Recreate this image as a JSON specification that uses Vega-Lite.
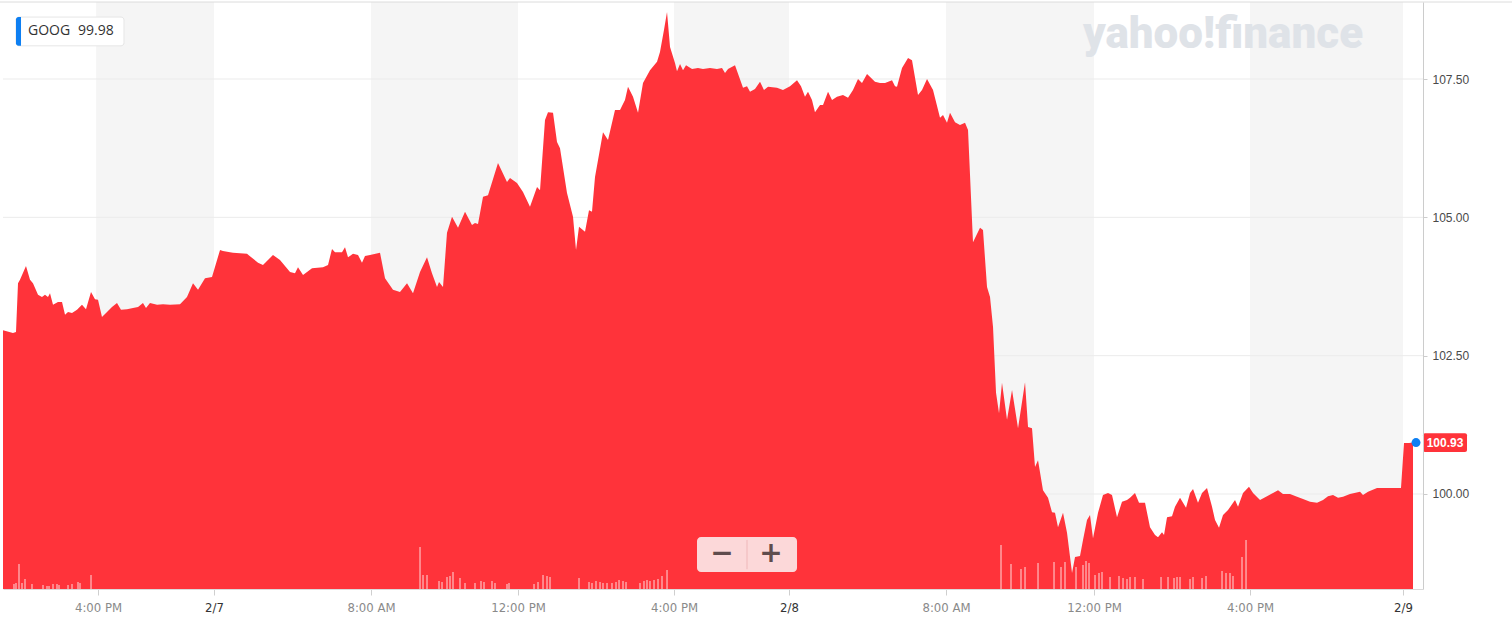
{
  "$schema": "https://vega.github.io/schema/vega-lite/v6.json",
  "width": 1420,
  "height": 587,
  "autosize": "none",
  "padding": {"left": 3, "top": 2, "right": 89, "bottom": 42},
  "background": "#ffffff",
  "config": {"view": {"stroke": null}},
  "datasets": {
    "price": [
      {"h":0,"p":102.96},{"h":0.263,"p":102.91},{"h":0.342,"p":102.93},{"h":0.395,"p":103.81},{"h":0.447,"p":103.87},{"h":0.605,"p":104.12},{"h":0.711,"p":103.87},{"h":0.789,"p":103.81},{"h":0.921,"p":103.60},{"h":1.026,"p":103.56},{"h":1.105,"p":103.60},{"h":1.184,"p":103.56},{"h":1.237,"p":103.63},{"h":1.316,"p":103.42},{"h":1.447,"p":103.47},{"h":1.553,"p":103.47},{"h":1.632,"p":103.24},{"h":1.711,"p":103.29},{"h":1.816,"p":103.27},{"h":1.947,"p":103.33},{"h":2.079,"p":103.42},{"h":2.184,"p":103.34},{"h":2.316,"p":103.65},{"h":2.421,"p":103.52},{"h":2.5,"p":103.51},{"h":2.605,"p":103.20},{"h":2.737,"p":103.29},{"h":2.868,"p":103.38},{"h":3.0,"p":103.45},{"h":3.105,"p":103.33},{"h":3.263,"p":103.34},{"h":3.421,"p":103.36},{"h":3.553,"p":103.38},{"h":3.684,"p":103.45},{"h":3.763,"p":103.36},{"h":3.868,"p":103.45},{"h":4.053,"p":103.42},{"h":4.211,"p":103.43},{"h":4.395,"p":103.42},{"h":4.658,"p":103.43},{"h":4.842,"p":103.56},{"h":5.0,"p":103.81},{"h":5.132,"p":103.69},{"h":5.316,"p":103.90},{"h":5.5,"p":103.92},{"h":5.711,"p":104.41},{"h":5.789,"p":104.39},{"h":5.974,"p":104.37},{"h":6.053,"p":104.36},{"h":6.421,"p":104.34},{"h":6.711,"p":104.18},{"h":6.842,"p":104.14},{"h":7.105,"p":104.32},{"h":7.289,"p":104.23},{"h":7.553,"p":104.01},{"h":7.684,"p":103.99},{"h":7.763,"p":104.10},{"h":7.895,"p":103.96},{"h":8.132,"p":104.08},{"h":8.421,"p":104.10},{"h":8.553,"p":104.14},{"h":8.658,"p":104.43},{"h":8.737,"p":104.37},{"h":8.921,"p":104.37},{"h":9.0,"p":104.46},{"h":9.079,"p":104.28},{"h":9.211,"p":104.34},{"h":9.342,"p":104.32},{"h":9.447,"p":104.18},{"h":9.526,"p":104.30},{"h":9.658,"p":104.32},{"h":9.921,"p":104.36},{"h":10.053,"p":103.90},{"h":10.263,"p":103.69},{"h":10.447,"p":103.65},{"h":10.632,"p":103.81},{"h":10.789,"p":103.63},{"h":10.974,"p":104.01},{"h":11.158,"p":104.28},{"h":11.289,"p":103.99},{"h":11.421,"p":103.74},{"h":11.474,"p":103.83},{"h":11.579,"p":103.74},{"h":11.684,"p":104.72},{"h":11.816,"p":105.01},{"h":11.974,"p":104.81},{"h":12.158,"p":105.10},{"h":12.342,"p":104.86},{"h":12.421,"p":104.90},{"h":12.5,"p":104.88},{"h":12.632,"p":105.37},{"h":12.763,"p":105.40},{"h":13.026,"p":105.98},{"h":13.263,"p":105.64},{"h":13.342,"p":105.71},{"h":13.526,"p":105.62},{"h":13.684,"p":105.46},{"h":13.868,"p":105.19},{"h":14.053,"p":105.55},{"h":14.132,"p":105.49},{"h":14.263,"p":106.76},{"h":14.342,"p":106.90},{"h":14.474,"p":106.89},{"h":14.579,"p":106.36},{"h":14.658,"p":106.25},{"h":14.842,"p":105.44},{"h":15.0,"p":105.01},{"h":15.079,"p":104.41},{"h":15.158,"p":104.83},{"h":15.316,"p":104.74},{"h":15.421,"p":105.13},{"h":15.5,"p":105.10},{"h":15.579,"p":105.73},{"h":15.789,"p":106.54},{"h":15.921,"p":106.40},{"h":16.105,"p":106.94},{"h":16.237,"p":106.94},{"h":16.368,"p":107.12},{"h":16.447,"p":107.36},{"h":16.579,"p":107.18},{"h":16.711,"p":106.89},{"h":16.842,"p":107.43},{"h":17.026,"p":107.66},{"h":17.211,"p":107.81},{"h":17.289,"p":107.99},{"h":17.395,"p":108.39},{"h":17.474,"p":108.71},{"h":17.553,"p":108.08},{"h":17.684,"p":107.79},{"h":17.737,"p":107.64},{"h":17.816,"p":107.77},{"h":17.895,"p":107.66},{"h":17.974,"p":107.75},{"h":18.132,"p":107.68},{"h":18.289,"p":107.70},{"h":18.421,"p":107.68},{"h":18.605,"p":107.70},{"h":18.789,"p":107.68},{"h":18.921,"p":107.70},{"h":19.0,"p":107.61},{"h":19.079,"p":107.68},{"h":19.263,"p":107.75},{"h":19.474,"p":107.34},{"h":19.579,"p":107.37},{"h":19.658,"p":107.27},{"h":19.789,"p":107.32},{"h":19.921,"p":107.45},{"h":20.026,"p":107.30},{"h":20.132,"p":107.36},{"h":20.368,"p":107.34},{"h":20.526,"p":107.30},{"h":20.711,"p":107.37},{"h":20.895,"p":107.48},{"h":21.0,"p":107.37},{"h":21.105,"p":107.18},{"h":21.184,"p":107.27},{"h":21.289,"p":107.12},{"h":21.368,"p":106.90},{"h":21.5,"p":107.03},{"h":21.579,"p":107.03},{"h":21.711,"p":107.27},{"h":21.816,"p":107.12},{"h":21.947,"p":107.18},{"h":22.105,"p":107.21},{"h":22.237,"p":107.16},{"h":22.368,"p":107.30},{"h":22.5,"p":107.50},{"h":22.605,"p":107.43},{"h":22.737,"p":107.59},{"h":22.947,"p":107.45},{"h":23.079,"p":107.43},{"h":23.211,"p":107.43},{"h":23.395,"p":107.48},{"h":23.474,"p":107.37},{"h":23.526,"p":107.36},{"h":23.658,"p":107.70},{"h":23.816,"p":107.88},{"h":23.921,"p":107.84},{"h":24.079,"p":107.21},{"h":24.184,"p":107.30},{"h":24.316,"p":107.50},{"h":24.474,"p":107.30},{"h":24.658,"p":106.80},{"h":24.737,"p":106.85},{"h":24.842,"p":106.71},{"h":24.921,"p":106.89},{"h":25.053,"p":106.72},{"h":25.184,"p":106.67},{"h":25.316,"p":106.71},{"h":25.395,"p":106.58},{"h":25.526,"p":104.55},{"h":25.711,"p":104.81},{"h":25.789,"p":104.77},{"h":25.895,"p":103.74},{"h":25.974,"p":103.56},{"h":26.053,"p":103.02},{"h":26.132,"p":101.83},{"h":26.211,"p":101.46},{"h":26.289,"p":102.01},{"h":26.421,"p":101.34},{"h":26.553,"p":101.88},{"h":26.711,"p":101.19},{"h":26.895,"p":102.02},{"h":26.974,"p":101.21},{"h":27.079,"p":101.19},{"h":27.158,"p":100.49},{"h":27.237,"p":100.61},{"h":27.368,"p":100.07},{"h":27.5,"p":99.93},{"h":27.605,"p":99.67},{"h":27.684,"p":99.66},{"h":27.763,"p":99.40},{"h":27.895,"p":99.66},{"h":28.0,"p":99.30},{"h":28.132,"p":98.57},{"h":28.211,"p":98.86},{"h":28.342,"p":98.88},{"h":28.421,"p":99.17},{"h":28.526,"p":99.53},{"h":28.605,"p":99.62},{"h":28.684,"p":99.20},{"h":28.816,"p":99.66},{"h":28.947,"p":99.98},{"h":29.079,"p":100.02},{"h":29.184,"p":99.98},{"h":29.316,"p":99.58},{"h":29.447,"p":99.86},{"h":29.579,"p":99.89},{"h":29.658,"p":99.93},{"h":29.789,"p":100.02},{"h":29.895,"p":99.84},{"h":30.053,"p":99.84},{"h":30.184,"p":99.40},{"h":30.316,"p":99.26},{"h":30.395,"p":99.22},{"h":30.5,"p":99.31},{"h":30.553,"p":99.26},{"h":30.632,"p":99.58},{"h":30.763,"p":99.60},{"h":30.842,"p":99.77},{"h":30.974,"p":99.93},{"h":31.132,"p":99.75},{"h":31.237,"p":100.02},{"h":31.316,"p":100.09},{"h":31.447,"p":99.84},{"h":31.553,"p":100.02},{"h":31.684,"p":100.11},{"h":31.816,"p":99.77},{"h":31.895,"p":99.53},{"h":32.0,"p":99.39},{"h":32.105,"p":99.62},{"h":32.237,"p":99.71},{"h":32.421,"p":99.89},{"h":32.5,"p":99.77},{"h":32.632,"p":100.02},{"h":32.789,"p":100.13},{"h":32.895,"p":100.02},{"h":33.079,"p":99.89},{"h":33.263,"p":99.96},{"h":33.421,"p":100.02},{"h":33.553,"p":100.07},{"h":33.684,"p":100.00},{"h":33.868,"p":100.00},{"h":34.053,"p":99.95},{"h":34.211,"p":99.91},{"h":34.395,"p":99.86},{"h":34.579,"p":99.84},{"h":34.737,"p":99.89},{"h":34.868,"p":99.96},{"h":35.0,"p":99.98},{"h":35.132,"p":99.93},{"h":35.263,"p":99.95},{"h":35.447,"p":100.00},{"h":35.711,"p":100.04},{"h":35.789,"p":99.98},{"h":35.921,"p":100.04},{"h":36.158,"p":100.11},{"h":36.316,"p":100.11},{"h":36.5,"p":100.11},{"h":36.684,"p":100.11},{"h":36.789,"p":100.11},{"h":36.868,"p":100.92},{"h":37.0,"p":100.92},{"h":37.105,"p":100.93}
    ],
    "vol": [
      {"h":0.289,"v":50},{"h":0.342,"v":60},{"h":0.421,"v":250},{"h":0.5,"v":60},{"h":0.579,"v":100},{"h":0.763,"v":50},{"h":1.053,"v":40},{"h":1.158,"v":30},{"h":1.211,"v":30},{"h":1.316,"v":50},{"h":1.421,"v":50},{"h":1.474,"v":40},{"h":1.711,"v":40},{"h":1.816,"v":50},{"h":1.974,"v":70},{"h":2.026,"v":60},{"h":2.316,"v":140},
      {"h":10.974,"v":420},{"h":11.053,"v":140},{"h":11.158,"v":140},{"h":11.474,"v":80},{"h":11.553,"v":70},{"h":11.684,"v":120},{"h":11.763,"v":130},{"h":11.842,"v":170},{"h":12.026,"v":110},{"h":12.158,"v":60},{"h":12.421,"v":60},{"h":12.579,"v":80},{"h":12.658,"v":70},{"h":12.868,"v":80},{"h":12.947,"v":60},{"h":13.263,"v":50},{"h":13.316,"v":60},{"h":13.974,"v":50},{"h":14.079,"v":70},{"h":14.211,"v":140},{"h":14.316,"v":130},{"h":14.395,"v":120},{"h":15.158,"v":110},{"h":15.421,"v":70},{"h":15.5,"v":60},{"h":15.605,"v":80},{"h":15.711,"v":70},{"h":15.789,"v":60},{"h":15.895,"v":60},{"h":16.026,"v":60},{"h":16.132,"v":70},{"h":16.211,"v":90},{"h":16.316,"v":80},{"h":16.395,"v":70},{"h":16.763,"v":60},{"h":16.868,"v":80},{"h":16.947,"v":90},{"h":17.026,"v":80},{"h":17.132,"v":90},{"h":17.237,"v":100},{"h":17.342,"v":130},{"h":17.474,"v":190},
      {"h":26.263,"v":440},{"h":26.526,"v":250},{"h":26.789,"v":200},{"h":26.895,"v":220},{"h":27.237,"v":260},{"h":27.658,"v":270},{"h":27.842,"v":220},{"h":27.947,"v":270},{"h":28.237,"v":220},{"h":28.421,"v":240},{"h":28.5,"v":280},{"h":28.579,"v":260},{"h":28.737,"v":140},{"h":28.842,"v":160},{"h":28.921,"v":170},{"h":29.132,"v":120},{"h":29.368,"v":130},{"h":29.474,"v":110},{"h":29.579,"v":100},{"h":29.658,"v":120},{"h":29.789,"v":120},{"h":30.0,"v":100},{"h":30.474,"v":120},{"h":30.658,"v":120},{"h":30.816,"v":110},{"h":30.895,"v":120},{"h":30.974,"v":120},{"h":31.237,"v":100},{"h":31.316,"v":120},{"h":31.553,"v":110},{"h":31.658,"v":130},{"h":32.079,"v":180},{"h":32.184,"v":160},{"h":32.289,"v":160},{"h":32.368,"v":130},{"h":32.605,"v":320},{"h":32.711,"v":490}
    ],
    "bands": [
      {"a":2.45,"b":5.553},{"a":9.684,"b":13.553},{"a":17.658,"b":20.684},{"a":24.816,"b":28.711},{"a":32.816,"b":36.842}
    ],
    "grid": [{"g":100},{"g":102.5},{"g":105},{"g":107.5}]
  },
  "layer": [
    {
      "layer": [
        {
          "data": {"name": "bands"},
          "mark": {"type": "rect", "color": "#f5f5f5"},
          "encoding": {
            "x": {"field": "a", "type": "quantitative", "scale": {"domain": [0, 37.368], "nice": false, "zero": false}},
            "x2": {"field": "b"}
          }
        },
        {
          "data": {"name": "grid"},
          "mark": {"type": "rule", "color": "#ebebeb", "strokeWidth": 1},
          "encoding": {
            "y": {"field": "g", "type": "quantitative", "scale": {"domain": [98.283, 108.892], "nice": false, "zero": false}}
          }
        },
        {
          "data": {"values": [{}]},
          "mark": {"type": "rule", "color": "#dcdcdc", "strokeWidth": 1},
          "encoding": {
            "y": {"datum": 108.892, "scale": {"domain": [98.283, 108.892], "nice": false, "zero": false}},
            "x": {"datum": -0.1, "scale": {"domain": [0, 37.368], "nice": false, "zero": false}},
            "x2": {"datum": 39.71}
          }
        },
        {
          "data": {"name": "price"},
          "mark": {"type": "area", "color": "#ff333a", "interpolate": "linear"},
          "encoding": {
            "x": {
              "field": "h", "type": "quantitative",
              "scale": {"domain": [0, 37.368], "nice": false, "zero": false},
              "axis": {
                "title": null,
                "values": [2.5, 5.553, 9.684, 13.553, 17.658, 20.684, 24.816, 28.711, 32.816, 36.842],
                "labelExpr": "datum.value < 4 ? '4:00 PM' : datum.value < 7 ? '2/7' : datum.value < 11 ? '8:00 AM' : datum.value < 15 ? '12:00 PM' : datum.value < 19 ? '4:00 PM' : datum.value < 22 ? '2/8' : datum.value < 26 ? '8:00 AM' : datum.value < 30 ? '12:00 PM' : datum.value < 34 ? '4:00 PM' : '2/9'",
                "grid": false,
                "domainColor": "#dadada",
                "tickColor": "#cfcfcf",
                "tickSize": 6,
                "labelPadding": 6,
                "labelFont": "Liberation Sans Narrow, DejaVu Sans Condensed, sans-serif",
                "labelFontSize": 13,
                "labelColor": {"condition": {"test": "(datum.value > 5 && datum.value < 6) || (datum.value > 20 && datum.value < 21) || datum.value > 36", "value": "#333333"}, "value": "#8a8a8a"},
                "labelOverlap": false,
                "labelFlush": false,
                "labelBound": false,
                "zindex": 1
              }
            },
            "y": {
              "field": "p", "type": "quantitative",
              "scale": {"domain": [98.283, 108.892], "nice": false, "zero": false},
              "axis": {
                "title": null,
                "orient": "right",
                "values": [100, 102.5, 105, 107.5],
                "format": ".2f",
                "grid": false,
                "domainColor": "#cccccc",
                "tickColor": "#cccccc",
                "tickSize": 4,
                "labelPadding": 5,
                "labelFont": "Liberation Sans, Arial, sans-serif",
                "labelFontSize": 12,
                "labelColor": "#4a4a4a",
                "zindex": 1
              }
            },
            "y2": {"datum": 98.283}
          }
        },
        {
          "data": {"values": [{}]},
          "mark": {"type": "text", "text": "yahoo!finance", "font": "Roboto", "fontWeight": 900, "fontSize": 44, "color": "#dfe3e8", "align": "center", "baseline": "middle"},
          "encoding": {
            "x": {"datum": 32.105, "scale": {"domain": [0, 37.368], "nice": false, "zero": false}},
            "y": {"datum": 108.3, "scale": {"domain": [98.283, 108.892], "nice": false, "zero": false}}
          }
        },
        {
          "data": {"values": [{}]},
          "mark": {"type": "rect", "color": "#ffffff", "stroke": "#e6e6e6", "strokeWidth": 1, "cornerRadius": 3},
          "encoding": {
            "x": {"datum": 0.342, "scale": {"domain": [0, 37.368], "nice": false, "zero": false}},
            "x2": {"datum": 3.184},
            "y": {"datum": 108.62, "scale": {"domain": [98.283, 108.892], "nice": false, "zero": false}},
            "y2": {"datum": 108.1}
          }
        },
        {
          "data": {"values": [{}]},
          "mark": {"type": "rect", "color": "#0d7ff2", "cornerRadiusTopLeft": 3, "cornerRadiusBottomLeft": 3},
          "encoding": {
            "x": {"datum": 0.342, "scale": {"domain": [0, 37.368], "nice": false, "zero": false}},
            "x2": {"datum": 0.474},
            "y": {"datum": 108.62, "scale": {"domain": [98.283, 108.892], "nice": false, "zero": false}},
            "y2": {"datum": 108.1}
          }
        },
        {
          "data": {"values": [{"t": "GOOG", "x": 0.658}, {"t": "99.98", "x": 1.974}]},
          "mark": {"type": "text", "font": "Open Sans", "fontSize": 14, "color": "#333333", "align": "left", "baseline": "middle"},
          "encoding": {
            "x": {"field": "x", "type": "quantitative", "scale": {"domain": [0, 37.368], "nice": false, "zero": false}},
            "y": {"datum": 108.37, "scale": {"domain": [98.283, 108.892], "nice": false, "zero": false}},
            "text": {"field": "t"}
          }
        },
        {
          "data": {"values": [{}]},
          "mark": {"type": "rect", "color": "#fcd8d9", "cornerRadius": 4},
          "encoding": {
            "x": {"datum": 18.263, "scale": {"domain": [0, 37.368], "nice": false, "zero": false}},
            "x2": {"datum": 20.895},
            "y": {"datum": 99.223, "scale": {"domain": [98.283, 108.892], "nice": false, "zero": false}},
            "y2": {"datum": 98.59}
          }
        },
        {
          "data": {"values": [{}]},
          "mark": {"type": "rule", "color": "#efb8ba", "strokeWidth": 1},
          "encoding": {
            "x": {"datum": 19.579, "scale": {"domain": [0, 37.368], "nice": false, "zero": false}},
            "y": {"datum": 99.17, "scale": {"domain": [98.283, 108.892], "nice": false, "zero": false}},
            "y2": {"datum": 98.64}
          }
        },
        {
          "data": {"values": [{"t": "−", "x": 18.921}, {"t": "+", "x": 20.211}]},
          "mark": {"type": "text", "font": "DejaVu Sans", "fontSize": 28, "fontWeight": "bold", "color": "#5f4c4d", "align": "center", "baseline": "middle"},
          "encoding": {
            "x": {"field": "x", "type": "quantitative", "scale": {"domain": [0, 37.368], "nice": false, "zero": false}},
            "y": {"datum": 98.92, "scale": {"domain": [98.283, 108.892], "nice": false, "zero": false}},
            "text": {"field": "t"}
          }
        },
        {
          "data": {"values": [{}]},
          "mark": {"type": "rect", "color": "#ff333a", "cornerRadius": 2},
          "encoding": {
            "x": {"datum": 37.368, "scale": {"domain": [0, 37.368], "nice": false, "zero": false}},
            "x2": {"datum": 38.526},
            "y": {"datum": 101.1, "scale": {"domain": [98.283, 108.892], "nice": false, "zero": false}},
            "y2": {"datum": 100.76}
          }
        },
        {
          "data": {"values": [{}]},
          "mark": {"type": "text", "text": "100.93", "font": "Liberation Sans, Arial, sans-serif", "fontSize": 12, "fontWeight": "bold", "color": "#ffffff", "align": "center", "baseline": "middle"},
          "encoding": {
            "x": {"datum": 37.947, "scale": {"domain": [0, 37.368], "nice": false, "zero": false}},
            "y": {"datum": 100.93, "scale": {"domain": [98.283, 108.892], "nice": false, "zero": false}}
          }
        },
        {
          "data": {"values": [{}]},
          "mark": {"type": "point", "filled": true, "color": "#0d7ff2", "size": 80, "opacity": 1},
          "encoding": {
            "x": {"datum": 37.184, "scale": {"domain": [0, 37.368], "nice": false, "zero": false}},
            "y": {"datum": 100.93, "scale": {"domain": [98.283, 108.892], "nice": false, "zero": false}}
          }
        }
      ]
    },
    {
      "data": {"name": "vol"},
      "mark": {"type": "rule", "color": "#ffffff", "opacity": 0.55, "strokeWidth": 1.5},
      "encoding": {
        "x": {"field": "h", "type": "quantitative", "scale": {"domain": [0, 37.368], "nice": false, "zero": false}},
        "y": {"field": "v", "type": "quantitative", "scale": {"domain": [0, 5870], "nice": false}, "axis": null},
        "y2": {"datum": 0}
      }
    }
  ],
  "resolve": {"scale": {"y": "independent"}}
}
